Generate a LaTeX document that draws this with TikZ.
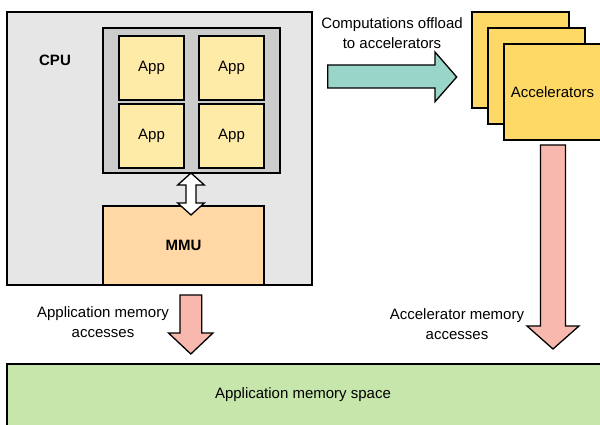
\documentclass[tikz,border=0pt]{standalone}
\usepackage{fontspec}
\setmainfont{Liberation Sans}
\usetikzlibrary{positioning}
\definecolor{cpugrey}{HTML}{E6E6E6}
\definecolor{appgrey}{HTML}{CCCCCC}
\definecolor{appyellow}{HTML}{FFEBA8}
\definecolor{accyellow}{HTML}{FFD966}
\definecolor{mmuorange}{HTML}{FFD8A6}
\definecolor{offteal}{HTML}{9AD5C9}
\definecolor{accpink}{HTML}{F8B8AE}
\definecolor{memgreen}{HTML}{C6E6AB}
\begin{document}
\begin{tikzpicture}[x=1pt, y=-1pt, line width=1.3pt,
    font=\fontsize{15}{19.5}\selectfont,
    box/.style={draw, rectangle, outer sep=0pt, inner sep=0pt},
    app/.style={box, fill=appyellow, minimum width=65pt, minimum height=64pt},
    acc/.style={box, fill=accyellow, minimum width=97pt, minimum height=96pt},
    blockarrow/.style={draw, line join=miter}]
    \useasboundingbox (0,0) rectangle (600,425);

    % CPU side
    \node (cpu) [box, fill=cpugrey, minimum width=305pt, minimum height=273pt] at (159.5,148.5) {};
    \node (cpulbl) at (55,60) {\bfseries CPU};
    \node (apps) [box, fill=appgrey, minimum width=177pt, minimum height=145pt] at (191.5,100.5) {};
    \node (a1) [app] at (151.5,68) {App};
    \node (a2) [app, right=15pt of a1] {App};
    \node (a3) [app, below=4pt of a1] {App};
    \node (a4) [app, right=15pt of a3] {App};
    \node (mmu) [box, fill=mmuorange, minimum width=161pt, minimum height=79pt] at (183.5,245.5) {\bfseries MMU};

    % apps <-> MMU
    \draw[blockarrow, fill=white] (191,173) -- (204.3,185) -- (196,185) -- (196,203)
      -- (204.3,203) -- (191,215) -- (177.7,203) -- (186,203) -- (186,185)
      -- (177.7,185) -- cycle;

    % accelerators
    \node (acc1) [acc] at (520.5,60) {};
    \node (acc2) [acc] at (536.5,76) {};
    \node (acc3) [acc] at (552.5,92) {Accelerators};

    % offload
    \node (offlbl) [align=center] at (392,33) {Computations offload\\to accelerators};
    \draw[blockarrow, fill=offteal] (327.7,65) -- (435,65) -- (435,52) -- (456.7,77)
      -- (435,101.7) -- (435,88) -- (327.7,88) -- cycle;

    % memory
    \node (mem) [box, fill=memgreen, minimum width=594pt, minimum height=62pt] at (304,395) {};
    \node (memlbl) at (303,395) {Application memory space};

    \node (applbl) [align=center] at (103,322) {Application memory\\accesses};
    \draw[blockarrow, fill=accpink] (180,295) -- (201.7,295) -- (201.7,333) -- (213,333)
      -- (190.8,354) -- (168.5,333) -- (180,333) -- cycle;

    \node (acclbl) [align=center] at (457,324) {Accelerator memory\\accesses};
    \draw[blockarrow, fill=accpink] (540.5,145) -- (565.5,145) -- (565.5,326) -- (579,326)
      -- (553,349) -- (527,326) -- (540.5,326) -- cycle;
\end{tikzpicture}
\end{document}
